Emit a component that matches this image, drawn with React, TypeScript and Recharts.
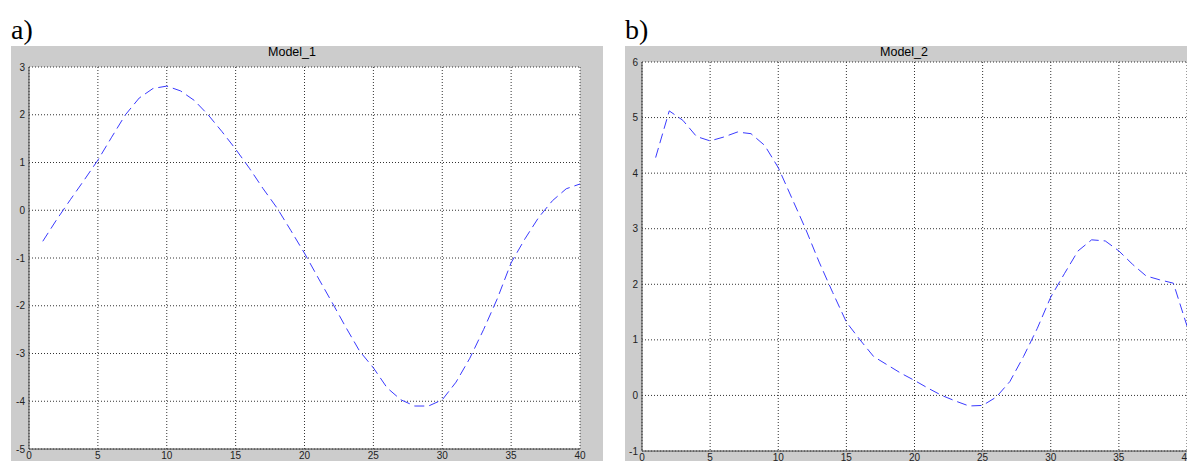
import { CartesianGrid, Line, LineChart, XAxis, YAxis } from 'recharts';

const steps = [1, 2, 3, 4, 5, 6, 7, 8, 9, 10, 11, 12, 13, 14, 15, 16, 17, 18, 19, 20,
  21, 22, 23, 24, 25, 26, 27, 28, 29, 30, 31, 32, 33, 34, 35, 36, 37, 38, 39, 40];

const model1 = [-0.65, -0.2, 0.22, 0.63, 1.05, 1.53, 2.0, 2.35, 2.55, 2.6,
  2.5, 2.3, 2.0, 1.65, 1.28, 0.88, 0.45, 0.05, -0.42, -0.9,
  -1.42, -1.93, -2.45, -2.95, -3.3, -3.72, -3.97, -4.1, -4.1, -3.97,
  -3.6, -3.1, -2.5, -1.85, -1.1, -0.6, -0.15, 0.2, 0.45, 0.55];

const model2 = [4.28, 5.12, 4.95, 4.66, 4.58, 4.65, 4.74, 4.71, 4.5, 4.1,
  3.55, 3.0, 2.4, 1.85, 1.32, 1.0, 0.7, 0.55, 0.4, 0.27,
  0.13, 0.0, -0.1, -0.19, -0.18, -0.03, 0.25, 0.7, 1.2, 1.77,
  2.19, 2.6, 2.8, 2.78, 2.6, 2.36, 2.15, 2.08, 2.02, 1.25];

const xTicks = [0, 5, 10, 15, 20, 25, 30, 35, 40];
const yTicks1 = [-5, -4, -3, -2, -1, 0, 1, 2, 3];
const yTicks2 = [-1, 0, 1, 2, 3, 4, 5, 6];

const tickStyle = { fontSize: 10, fill: '#222', fontFamily: 'Liberation Sans, Arial, sans-serif' };
const axisStyle = { stroke: '#444' };

type PanelProps = {
  letter: string;
  title: string;
  values: number[];
  yTicks: number[];
  left: number;
  width: number;
  titleCenter: number;
  margin: { top: number; right: number; bottom: number; left: number };
  yWidth: number;
  xHeight: number;
};

const Panel = ({ letter, title, values, yTicks, left, width, titleCenter, margin, yWidth, xHeight }: PanelProps) => {
  const data = steps.map((x, i) => ({ x, y: values[i] }));
  return (
    <>
      <div
        style={{
          position: 'absolute',
          left,
          top: 16,
          fontFamily: 'Liberation Serif, Times New Roman, serif',
          fontSize: 28,
          lineHeight: '28px',
        }}
      >
        {letter}
      </div>
      <div style={{ position: 'absolute', left, top: 46, width, height: 415, background: '#cccccc' }}>
        <div
          style={{
            position: 'absolute',
            left: titleCenter - left - 60,
            width: 120,
            top: 0,
            textAlign: 'center',
            fontFamily: 'Liberation Sans, Arial, sans-serif',
            fontSize: 12.5,
            lineHeight: '12px',
            color: '#000',
          }}
        >
          {title}
        </div>
        <LineChart width={width} height={415} data={data} margin={margin}>
          <CartesianGrid fill="#fff" stroke="#333" strokeDasharray="1 2" />
          <XAxis
            dataKey="x"
            type="number"
            domain={[0, 40]}
            ticks={xTicks}
            height={xHeight}
            tick={tickStyle}
            tickLine={false}
            tickSize={0}
            tickMargin={3}
            axisLine={axisStyle}
            interval={0}
          />
          <YAxis
            type="number"
            domain={[yTicks[0], yTicks[yTicks.length - 1]]}
            ticks={yTicks}
            width={yWidth}
            tick={tickStyle}
            tickLine={false}
            tickSize={0}
            tickMargin={4}
            axisLine={axisStyle}
            interval={0}
          />
          <Line
            dataKey="y"
            type="linear"
            stroke="#3a3aff"
            strokeWidth={1}
            strokeDasharray="10 5"
            dot={false}
            isAnimationActive={false}
          />
        </LineChart>
      </div>
    </>
  );
};

export default function App() {
  return (
    <div
      style={{
        position: 'absolute',
        left: 0,
        top: 0,
        width: 1187,
        height: 461,
        overflow: 'hidden',
        background: '#fff',
      }}
    >
      <Panel
        letter="a)"
        title="Model_1"
        values={model1}
        yTicks={yTicks1}
        left={11}
        width={592}
        titleCenter={292}
        margin={{ top: 21, right: 23, bottom: 0, left: 0 }}
        yWidth={18}
        xHeight={12}
      />
      <Panel
        letter="b)"
        title="Model_2"
        values={model2}
        yTicks={yTicks2}
        left={625}
        width={580}
        titleCenter={904}
        margin={{ top: 16, right: 18, bottom: 0, left: 0 }}
        yWidth={17}
        xHeight={10}
      />
    </div>
  );
}
